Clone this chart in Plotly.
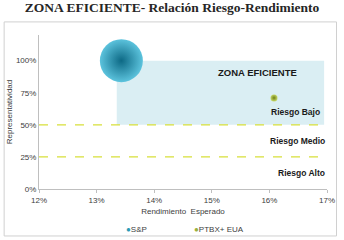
import plotly.graph_objects as go

# Data
series_names = ["S&P", "PTBX+ EUA"]
series_colors = ["#2A9BB5", "#9BB03A"]
rend_esperado = [0.1343, 0.1608]
representatividad = [1.00, 0.71]
zone_x = [0.1335, 0.1695]
zone_y = [0.50, 1.00]
risk_lines = [0.50, 0.25]
risk_labels = ["Riesgo Bajo", "Riesgo Medio", "Riesgo Alto"]
risk_label_y = [0.60, 0.375, 0.125]
risk_label_x = [0.1691, 0.17, 0.17]
x_ticks = [0.12, 0.13, 0.14, 0.15, 0.16, 0.17]
x_ticktext = ["12%", "13%", "14%", "15%", "16%", "17%"]
y_ticks = [0, 0.25, 0.5, 0.75, 1.0]
y_ticktext = ["0%", "25%", "50%", "75%", "100%"]

fig = go.Figure()

# shaded efficient zone
fig.add_shape(type="rect", xref="x", yref="y", x0=zone_x[0], x1=zone_x[1],
              y0=zone_y[0], y1=zone_y[1], fillcolor="#DAEEF3", line_width=0, layer="below")
for yv in risk_lines:
    fig.add_shape(type="line", xref="x", yref="y", x0=0.12, x1=0.17, y0=yv, y1=yv,
                  line=dict(color="#D7DF3A", width=1.3, dash="dash"))

# chart frame
fig.add_shape(type="rect", xref="paper", yref="paper", x0=-0.121, x1=1.033, y0=-0.305, y1=1.085,
              line=dict(color="#D0D0D0", width=1), fillcolor="rgba(0,0,0,0)")

# S&P sphere
fig.add_trace(go.Scatter(x=[rend_esperado[0]], y=[representatividad[0]], mode="markers",
                         name=series_names[0], showlegend=False, hoverinfo="skip",
                         marker=dict(size=43, color="#5CC3DD",
                                     gradient=dict(type="radial", color="#0D6985"),
                                     line=dict(width=0))))
# PTBX point
fig.add_trace(go.Scatter(x=[rend_esperado[1]], y=[representatividad[1]], mode="markers",
                         name=series_names[1], showlegend=False, hoverinfo="skip",
                         marker=dict(size=7, color="#C6D86A",
                                     gradient=dict(type="radial", color="#6E7F12"),
                                     line=dict(width=0))))

lbl_font = dict(family="Liberation Sans, Arial", size=8.5, color="#1A1A1A")
fig.add_annotation(x=0.158, y=0.91, xref="x", yref="y", text="<b>ZONA EFICIENTE</b>",
                   showarrow=False, font=dict(family="Liberation Sans, Arial", size=9.5, color="#1A1A1A"))
for t, xv, yv in zip(risk_labels, risk_label_x, risk_label_y):
    fig.add_annotation(x=xv, y=yv, xref="x", yref="y", text="<b>" + t + "</b>",
                       showarrow=False, xanchor="right", font=lbl_font)

# legend (marker + text close together as in the reference)
legend_x_px = [124, 192]
for name, col, px in zip(series_names, series_colors, legend_x_px):
    fig.add_annotation(x=(px - 39) / 288, y=-0.26, xref="paper", yref="paper",
                       xanchor="left", yanchor="middle", showarrow=False,
                       text='<span style="color:%s">●</span>%s' % (col, name),
                       font=dict(family="Liberation Sans, Arial", size=8, color="#404040"))

fig.update_layout(
    width=344, height=240,
    margin=dict(l=39, r=17, t=35, b=51, autoexpand=False),
    paper_bgcolor="white", plot_bgcolor="white",
    showlegend=False,
    title=dict(text="<b>ZONA EFICIENTE- Relación Riesgo-Rendimiento</b>",
               x=0.5, xanchor="center", y=0.99, yanchor="top",
               font=dict(family="Liberation Serif, DejaVu Serif, serif", size=13.5, color="#262626")),
    font=dict(family="Liberation Sans, Arial", size=8, color="#404040"),
    xaxis=dict(range=[0.12, 0.17], tickvals=x_ticks, ticktext=x_ticktext,
               showgrid=False, zeroline=False, showline=True, linecolor="#BFBFBF",
               ticks="outside", ticklen=3, tickcolor="#BFBFBF",
               title=dict(text="Rendimiento  Esperado", standoff=4,
                          font=dict(size=8, color="#404040"))),
    yaxis=dict(range=[0, 1.2], tickvals=y_ticks, ticktext=y_ticktext,
               showgrid=False, zeroline=False, showline=True, linecolor="#BFBFBF",
               ticks="", title=dict(text="Representatividad", standoff=2,
                                    font=dict(size=8, color="#404040"))),
)

fig.write_html("out.html")
